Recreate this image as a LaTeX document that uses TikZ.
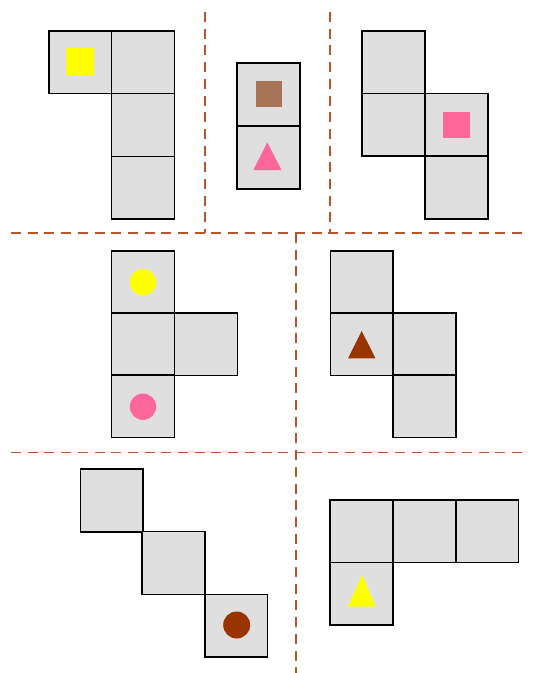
\documentclass[tikz,border=0pt]{standalone}
\usetikzlibrary{calc}
\definecolor{cellgray}{HTML}{DFDFDF}
\definecolor{sepcol}{RGB}{185,85,40}
\definecolor{ylw}{HTML}{FFFF00}
\definecolor{tan}{RGB}{168,116,88}
\definecolor{pnk}{HTML}{FF6699}
\definecolor{dbrown}{HTML}{993300}
\begin{document}
\begin{tikzpicture}[x=1pt,y=-1pt,
  cell/.style={draw=black, fill=cellgray, line width=1.5pt, minimum size=62.8pt, inner sep=0pt, outer sep=0pt},
  sepline/.style={draw=sepcol, line width=1.8pt, dash pattern=on 10pt off 6.7pt},
  ]
\useasboundingbox (0,0) rectangle (534,673);
\fill[white] (0,0) rectangle (534,673);

% separators
\coordinate (h1l) at (11,233);
\coordinate (h1r) at (528,233);
\coordinate (h2l) at (11,452.5);
\coordinate (h2r) at (528,452.5);
\coordinate (v1t) at (205,12);
\coordinate (v1b) at (205,233);
\coordinate (v2t) at (330,12);
\coordinate (v2b) at (330,233);
\coordinate (v3t) at (296,233);
\coordinate (v3b) at (296,673);
\draw[sepline] (v1t) -- (v1b);
\draw[sepline] (v2t) -- (v2b);
\draw[sepline] (v3t) -- (v3b);
\draw[sepline] (h1l) -- (h1r);
\draw[sepline] (h2l) -- (h2r);

% panel 1
\node[cell] (a1) at (80.2,62.3) {};
\node[cell] (a2) at (143,62.3) {};
\node[cell] (a3) at (143,125) {};
\node[cell] (a4) at (143,187.8) {};
\fill[ylw] ($(a1)+(-14,-14)$) rectangle ($(a1)+(14,14)$);

% panel 2
\node[cell] (b1) at (268.5,94.4) {};
\node[cell] (b2) at (268.5,157.4) {};
\fill[tan] ($(b1)+(-13,-13)$) rectangle ($(b1)+(13,13)$);
\fill[pnk] ($(b2)+(-1.2,-15)$) -- ($(b2)+(13,12.6)$) -- ($(b2)+(-15.2,12.6)$) -- cycle;

% panel 3
\node[cell] (c1) at (393.5,62.2) {};
\node[cell] (c2) at (393.5,124.8) {};
\node[cell] (c3) at (456.5,124.8) {};
\node[cell] (c4) at (456.5,187.6) {};
\fill[pnk] ($(c3)+(-14,-13)$) rectangle ($(c3)+(13.5,13.5)$);

% panel 4
\node[cell] (d1) at (143,282.3) {};
\node[cell] (d2) at (143,344.3) {};
\node[cell] (d3) at (206,344.3) {};
\node[cell] (d4) at (143,406.2) {};
\fill[ylw] (d1) circle[radius=13.3];
\fill[pnk] ($(d4)+(0,0.5)$) circle[radius=13.2];

% panel 5
\node[cell] (e1) at (361.7,282.3) {};
\node[cell] (e2) at (361.7,344.3) {};
\node[cell] (e3) at (424.5,344.3) {};
\node[cell] (e4) at (424.5,406.2) {};
\fill[dbrown] ($(e2)+(0,-13.3)$) -- ($(e2)+(13.8,14)$) -- ($(e2)+(-13.6,14)$) -- cycle;

% panel 6
\node[cell] (f1) at (111.7,500.5) {};
\node[cell] (f2) at (173.5,563) {};
\node[cell] (f3) at (236.2,625.8) {};
\fill[dbrown] ($(f3)+(0.5,-0.8)$) circle[radius=13.5];

% panel 7
\node[cell] (g1) at (361.5,531.3) {};
\node[cell] (g2) at (424.4,531.3) {};
\node[cell] (g3) at (487.2,531.3) {};
\node[cell] (g4) at (361.5,593.8) {};
\fill[ylw] ($(g4)+(0.8,-18.8)$) -- ($(g4)+(14.2,12.9)$) -- ($(g4)+(-13.8,12.9)$) -- cycle;
\end{tikzpicture}
\end{document}
